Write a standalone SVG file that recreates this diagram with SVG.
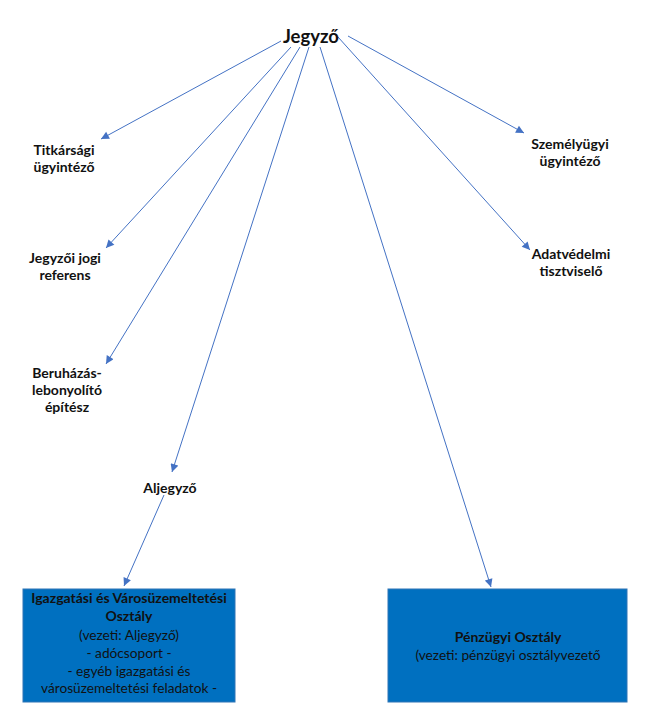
<svg xmlns="http://www.w3.org/2000/svg" width="650" height="714" viewBox="0 0 650 714">
<style>
text{font-family:Lato,"Liberation Sans",sans-serif;fill:#111;text-anchor:middle}
.b{font-weight:bold;font-size:14px}
.r{font-size:13.7px}
.t{font-weight:bold;font-size:18.5px}
.c line{stroke:#4472C4;stroke-width:1;marker-end:url(#ah)}
.box{fill:#0070C0;stroke:#2E75B6;stroke-width:1}
</style>
<defs>
<marker id="ah" viewBox="0 0 10 10" refX="10" refY="5" markerWidth="10" markerHeight="8" markerUnits="userSpaceOnUse" orient="auto">
<path d="M0,0 L10,5 L0,10 z" fill="#4472C4"/>
</marker>
</defs>
<rect width="650" height="714" fill="#fff"/>
<g class="c" id="connectors">
<line x1="281" y1="41" x2="101" y2="139"/>
<line x1="291" y1="47" x2="106" y2="248"/>
<line x1="300" y1="47" x2="106" y2="364"/>
<line x1="309" y1="47" x2="172" y2="472"/>
<line x1="320" y1="47" x2="491" y2="587"/>
<line x1="338" y1="37" x2="530" y2="250"/>
<line x1="348" y1="36" x2="524" y2="133"/>
<line x1="164" y1="495" x2="124" y2="586"/>
</g>
<g id="jegyzo"><text class="t" x="311" y="43">Jegyző</text></g>
<g id="titkarsagi"><text class="b" x="64" y="155">Titkársági</text><text class="b" x="64" y="172">ügyintéző</text></g>
<g id="jogi"><text class="b" x="65" y="263">Jegyzői jogi</text><text class="b" x="65" y="280">referens</text></g>
<g id="beruhazas"><text class="b" x="67" y="378">Beruházás-</text><text class="b" x="67" y="395">lebonyolító</text><text class="b" x="67" y="412">építész</text></g>
<g id="aljegyzo"><text class="b" x="170" y="493">Aljegyző</text></g>
<g id="szemelyugyi"><text class="b" x="570" y="149">Személyügyi</text><text class="b" x="570" y="166">ügyintéző</text></g>
<g id="adatvedelmi"><text class="b" x="571" y="259">Adatvédelmi</text><text class="b" x="571" y="276">tisztviselő</text></g>
<g id="igazgatasi">
<rect class="box" x="23" y="589" width="212" height="113"/>
<text class="b" x="129" y="603">Igazgatási és Városüzemeltetési</text>
<text class="b" x="129" y="621">Osztály</text>
<text class="r" x="129" y="640">(vezeti: Aljegyző)</text>
<text class="r" x="129" y="658">- adócsoport -</text>
<text class="r" x="129" y="676">- egyéb igazgatási és</text>
<text class="r" x="129" y="693">városüzemeltetési feladatok -</text>
</g>
<g id="penzugyi">
<rect class="box" x="388" y="589" width="239" height="113"/>
<text class="b" x="508" y="642">Pénzügyi Osztály</text>
<text class="r" x="508" y="660">(vezeti: pénzügyi osztályvezető</text>
</g>
</svg>
